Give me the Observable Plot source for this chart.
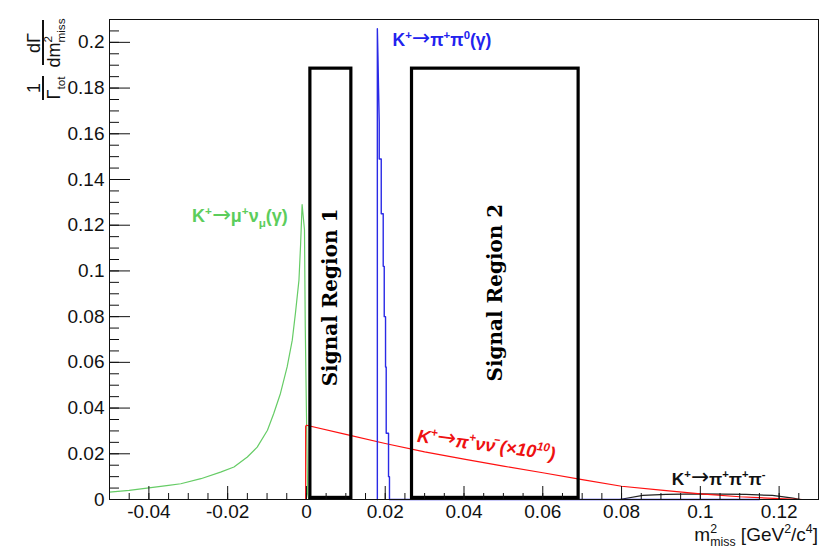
<!DOCTYPE html>
<html>
<head>
<meta charset="utf-8">
<script src="https://cdn.jsdelivr.net/npm/d3@7"></script>
<script src="https://cdn.jsdelivr.net/npm/@observablehq/plot@0.6"></script>
<style>
  body { margin: 0; background: #fff; }
  svg { display: block; }
</style>
</head>
<body>
<div id="chart"></div>
<script>
// ---------------- DATA ----------------
// K+ -> mu+ nu_mu (gamma)
const muNuX = [-0.05, -0.045, -0.04, -0.035, -0.0319, -0.0268, -0.0218, -0.0184, -0.015, -0.0125, -0.0099, -0.0083, -0.0066, -0.0049, -0.0036, -0.0028, -0.0019, -0.0015, -0.0011, -0.0005, -0.0003, 0.0, 0.0003, 0.0006, 0.022];
const muNuY = [0.0032, 0.0040, 0.0051, 0.0062, 0.0069, 0.0091, 0.0120, 0.0142, 0.0186, 0.0229, 0.0303, 0.0376, 0.0464, 0.058, 0.0697, 0.0814, 0.096, 0.111, 0.129, 0.118, 0.0756, 0.038, 0.0025, 0, 0];

// K+ -> pi+ pi0 (gamma)
const pipi0X = [0.0180, 0.0180, 0.01815, 0.0183, 0.01848, 0.01848, 0.01899, 0.01899, 0.01949, 0.01949, 0.01975, 0.01975, 0.02008, 0.02008, 0.02025, 0.02025, 0.02084, 0.02084, 0.02108, 0.02108, 0.115];
const pipi0Y = [0, 0.206, 0.194, 0.18, 0.165, 0.149, 0.149, 0.125, 0.125, 0.102, 0.102, 0.08, 0.08, 0.058, 0.058, 0.029, 0.029, 0.01, 0.01, 0, 0];

// K+ -> pi+ nu nubar (x 1e10)
const pinunuX = [-0.0002, -0.0002, 0.0, 0.01, 0.02, 0.03, 0.04, 0.05, 0.06, 0.07, 0.08, 0.09, 0.1, 0.11, 0.12, 0.126];
const pinunuY = [0, 0.032, 0.0325, 0.0285, 0.0245, 0.0208, 0.0177, 0.0146, 0.0117, 0.0087, 0.0058, 0.0041, 0.0025, 0.0012, 0.0004, 0];

// K+ -> pi+ pi+ pi-
const pipipiX = [0.077, 0.0795, 0.0854, 0.0913, 0.0997, 0.1116, 0.1183, 0.1235, 0.1255];
const pipipiY = [0, 0, 0.0018, 0.0022, 0.0025, 0.0022, 0.0018, 0.0006, 0];

// Signal regions
const regionNames = ["Signal Region 1", "Signal Region 2"];
const regionX1 = [0.001, 0.0268];
const regionX2 = [0.0114, 0.0691];
const regionYLow = [0.0007, 0.0007];
const regionYHigh = [0.1885, 0.1885];
const regionLabelY = [0.0884, 0.0905];

// Ticks
const xMajorTicks = [-0.04, -0.02, 0, 0.02, 0.04, 0.06, 0.08, 0.1, 0.12];
const yMajorTicks = [0, 0.02, 0.04, 0.06, 0.08, 0.1, 0.12, 0.14, 0.16, 0.18, 0.2];
const xMinorTicks = d3.range(-50, 131, 5).map(v => v / 1000);
const yMinorTicks = d3.range(0, 211, 5).map(v => v / 1000);
const xTickLabels = ["-0.04", "-0.02", "0", "0.02", "0.04", "0.06", "0.08", "0.1", "0.12"];
const yTickLabels = ["0", "0.02", "0.04", "0.06", "0.08", "0.1", "0.12", "0.14", "0.16", "0.18", "0.2"];

// Annotations (text + anchor in data coordinates)
const annotations = [
  {x: -0.0289, y: 0.121, color: "#5ccd5c", size: 18, weight: "bold", style: "normal", rotate: 0,
   parts: [["K"], ["+", "sup"], ["→", "arrow"], ["μ"], ["+", "sup"], ["ν"], ["μ", "sub"], ["(γ)"]]},
  {x: 0.022, y: 0.1982, color: "#2222ee", size: 17.5, weight: "bold", style: "normal", rotate: 0,
   parts: [["K"], ["+", "sup"], ["→", "arrow"], ["π"], ["+", "sup"], ["π"], ["0", "sup"], ["(γ)"]]},
  {x: 0.0281, y: 0.025, color: "#ee1111", size: 18, weight: "bold", style: "italic", rotate: 7.5,
   parts: [["K"], ["+", "sup"], ["→", "arrow"], ["π"], ["+", "sup"], ["νν̄ (×10"], ["10", "sup"], [")"]]},
  {x: 0.0929, y: 0.0061, color: "#111111", size: 17.3, weight: "bold", style: "normal", rotate: 0,
   parts: [["K"], ["+", "sup"], ["→", "arrow"], ["π"], ["+", "sup"], ["π"], ["+", "sup"], ["π"], ["-", "sup"]]}
];

// ---------------- BUILD ----------------
const toPts = (xs, ys) => xs.map((x, i) => ({x, y: ys[i]}));
const muNu = toPts(muNuX, muNuY);
const pipi0 = toPts(pipi0X, pipi0Y);
const pinunu = toPts(pinunuX, pinunuY);
const pipipi = toPts(pipipiX, pipipiY);
const regions = regionNames.map((name, i) => ({
  name, x1: regionX1[i], x2: regionX2[i], y1: regionYLow[i], y2: regionYHigh[i],
  xm: (regionX1[i] + regionX2[i]) / 2, ym: regionLabelY[i]
}));

const FONT = "'Liberation Sans', Arial, 'DejaVu Sans', sans-serif";

function appendParts(textSel, parts, size) {
  let shift = 0;
  for (const [s, kind, dxEm] of parts) {
    const ts = textSel.append("tspan").text(s);
    const target = kind === "sup" ? -0.42 * size : kind === "sub" ? 0.28 * size : kind === "arrow" ? -0.05 * size : 0;
    if (target - shift !== 0) ts.attr("dy", target - shift);
    shift = target;
    if (kind === "sup" || kind === "sub") ts.attr("font-size", 0.65 * size);
    if (kind === "arrow") {
      ts.attr("font-family", "'DejaVu Sans', sans-serif").attr("font-weight", "normal")
        .attr("font-style", "normal").attr("font-size", 1.25 * size);
    }
    if (dxEm) ts.attr("dx", dxEm * size);
  }
}

function annotationMark(spec) {
  return (index, scales) => {
    const g = d3.create("svg:g");
    const px = scales.x(spec.x), py = scales.y(spec.y);
    const t = g.append("text")
      .attr("transform", `translate(${px},${py}) rotate(${spec.rotate})`)
      .attr("text-anchor", "start")
      .attr("fill", spec.color)
      .attr("font-family", FONT)
      .attr("font-size", spec.size)
      .attr("font-weight", spec.weight)
      .attr("font-style", spec.style);
    appendParts(t, spec.parts, spec.size);
    return g.node();
  };
}

function yTitleMark(index, scales, values, dim) {
  const size = 18;
  const g = d3.create("svg:g")
    .attr("transform", `translate(${dim.marginLeft - 66},${dim.marginTop + 81}) rotate(-90)`)
    .attr("font-family", FONT)
    .attr("font-size", size)
    .attr("fill", "#111");
  // fraction 1 / Gamma_tot
  g.append("text").attr("x", 12).attr("y", -3).attr("text-anchor", "middle").text("1");
  g.append("line").attr("x1", 0).attr("x2", 24).attr("y1", 0).attr("y2", 0).attr("stroke", "#111").attr("stroke-width", 2);
  appendParts(g.append("text").attr("x", 12).attr("y", 17).attr("text-anchor", "middle"), [["Γ"], ["tot", "sub"]], size);
  // fraction dGamma / dm^2_miss
  g.append("text").attr("x", 57).attr("y", -3).attr("text-anchor", "middle").text("dΓ");
  g.append("line").attr("x1", 35).attr("x2", 80).attr("y1", 0).attr("y2", 0).attr("stroke", "#111").attr("stroke-width", 2);
  appendParts(g.append("text").attr("x", 57).attr("y", 17).attr("text-anchor", "middle"),
    [["dm"], ["2", "sup"], ["miss", "sub", -0.36]], size);
  return g.node();
}

function xTitleMark(index, scales, values, dim) {
  const size = 19;
  const g = d3.create("svg:g");
  const t = g.append("text")
    .attr("x", dim.width - dim.marginRight)
    .attr("y", dim.height - 11)
    .attr("text-anchor", "end")
    .attr("font-family", FONT)
    .attr("font-size", size)
    .attr("fill", "#111");
  appendParts(t, [["m"], ["2", "sup"], ["miss", "sub", -0.36], [" [GeV"], ["2", "sup"], ["/c"], ["4", "sup"], ["]"]], size);
  return g.node();
}

const chart = Plot.plot({
  width: 838,
  height: 552,
  marginLeft: 109,
  marginRight: 20,
  marginTop: 19,
  marginBottom: 53,
  style: {fontFamily: FONT, background: "#fff", overflow: "visible", color: "#111"},
  x: {domain: [-0.05, 0.13]},
  y: {domain: [0, 0.21]},
  marks: [
    // curves
    Plot.line(muNu, {x: "x", y: "y", stroke: "#66cc66", strokeWidth: 1.2}),
    Plot.line(pipipi, {x: "x", y: "y", stroke: "#222", strokeWidth: 1.2}),
    Plot.line(pinunu, {x: "x", y: "y", stroke: "#ff1010", strokeWidth: 1.2}),
    Plot.line(pipi0, {x: "x", y: "y", stroke: "#2a2ae6", strokeWidth: 1.4}),
    // signal regions
    Plot.rect(regions, {x1: "x1", x2: "x2", y1: "y1", y2: "y2", stroke: "#000", strokeWidth: 3.2, fill: "none"}),
    Plot.text(regions, {x: "xm", y: "ym", text: "name", rotate: -90, fontFamily: "'DejaVu Serif', serif",
      fontWeight: "bold", fontSize: 20, fill: "#000", textAnchor: "middle", lineAnchor: "middle"}),
    // axes: minor ticks, major ticks, labels
    Plot.axisX({ticks: xMinorTicks, tickSize: -6, tickFormat: () => "", label: null, anchor: "bottom"}),
    Plot.axisX({ticks: xMajorTicks, tickSize: -13, tickFormat: () => "", label: null, anchor: "bottom"}),
    Plot.axisX({ticks: xMajorTicks, tickSize: 0, tickPadding: 5, tickFormat: (d, i) => xTickLabels[i],
      label: null, anchor: "bottom", fontSize: 19}),
    Plot.axisY({ticks: yMinorTicks, tickSize: -10, tickFormat: () => "", label: null, anchor: "left"}),
    Plot.axisY({ticks: yMajorTicks, tickSize: -21, tickFormat: () => "", label: null, anchor: "left"}),
    Plot.axisY({ticks: yMajorTicks, tickSize: 0, tickPadding: 5, tickFormat: (d, i) => yTickLabels[i],
      label: null, anchor: "left", fontSize: 19}),
    Plot.frame({stroke: "#111"}),
    // annotations
    ...annotations.map(annotationMark),
    yTitleMark,
    xTitleMark
  ]
});
document.getElementById("chart").appendChild(chart);
</script>
</body>
</html>
